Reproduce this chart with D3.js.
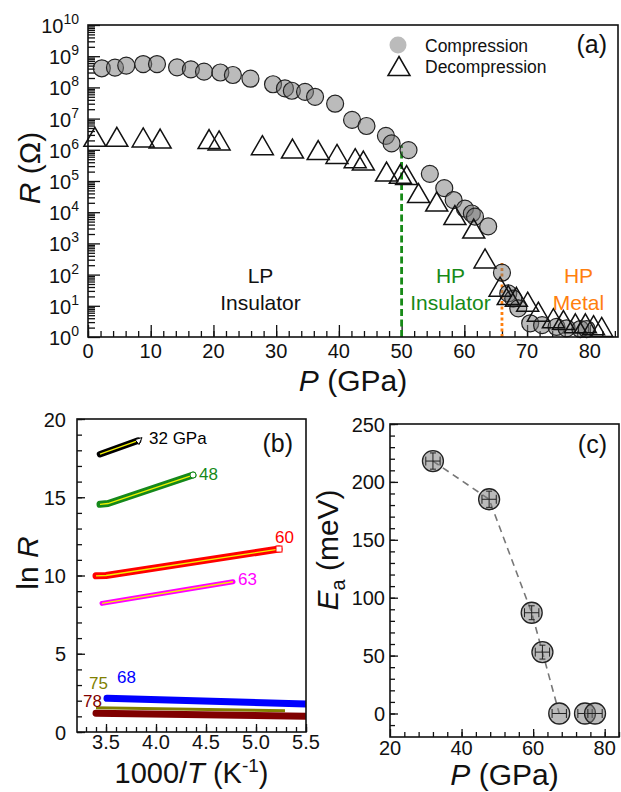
<!DOCTYPE html>
<html>
<head>
<meta charset="utf-8">
<script src="https://cdn.jsdelivr.net/npm/d3@7/dist/d3.min.js"></script>
<style>
  html, body { margin: 0; padding: 0; background: #fff; }
  svg { display: block; }
  text { font-family: 'Liberation Sans', Arial, Helvetica, sans-serif; fill: #111; }
</style>
</head>
<body>
<svg id="chart" width="621" height="792"></svg>
<script>
// ---------- Panel (a) data ----------
const compP = [2.2, 4.3, 6.1, 8.8, 11.0, 14.2, 16.4, 18.5, 21.1, 23.1, 25.9, 29.5, 31.4, 32.5, 34.6, 36.2, 39.4, 42.1, 44.4, 47.5, 48.4, 51.1, 54.5, 56.8, 58.3, 60.1, 61.2, 61.7, 63.8, 66.0, 67.0, 67.8, 68.6, 70.5, 72.4, 74.7, 76.3, 78.5, 79.5];
const compR = [4.1e8, 4.3e8, 5.0e8, 5.6e8, 5.6e8, 4.4e8, 3.8e8, 3.2e8, 3.0e8, 2.5e8, 1.9e8, 1.26e8, 9.3e7, 7.8e7, 7.2e7, 5.0e7, 3.0e7, 9.1e6, 5.8e6, 2.8e6, 1.6e6, 9.8e5, 1.7e5, 5.9e4, 2.45e4, 1.3e4, 9.1e3, 7.2e3, 3.5e3, 115, 25, 17, 8.3, 2.75, 2.4, 2.1, 1.9, 1.8, 1.8];
const decP = [1.1, 4.6, 8.8, 11.5, 19.3, 20.9, 27.8, 32.6, 36.7, 39.7, 42.6, 43.9, 47.6, 49.8, 50.8, 52.7, 55.6, 58.5, 61.5, 63.3, 65.7, 67.0, 68.3, 70.1, 71.8, 74.2, 75.8, 77.7, 79.3, 80.6, 81.9];
const decR = [2.6e6, 2.6e6, 2.5e6, 2.3e6, 2.2e6, 2.0e6, 1.4e6, 1.1e6, 9.8e5, 7.4e5, 5.4e5, 4.5e5, 2.0e5, 1.7e5, 1.55e5, 4.1e4, 2.2e4, 8.1e3, 3.0e3, 330, 41, 22, 19.5, 13.5, 6.5, 4.0, 3.5, 2.75, 2.75, 2.4, 2.1];
const aXTicks = [0, 10, 20, 30, 40, 50, 60, 70, 80];
const aYExponents = [0, 1, 2, 3, 4, 5, 6, 7, 8, 9, 10];
const boundaryP = [50, 66];
const boundaryTopR = [1.4e6, 234];
const regionNames = [["LP", "Insulator"], ["HP", "Insulator"], ["HP", "Metal"]];
const regionP = [27.5, 57.8, 78.2];
const legendLabels = ["Compression", "Decompression"];

// ---------- Panel (b) data ----------
const bPressures = ["32 GPa", "48", "60", "63", "68", "75", "78"];
const bX = [
  [3.44, 3.82],
  [3.44, 3.52, 4.37],
  [3.40, 3.50, 5.23],
  [3.46, 4.77],
  [3.51, 5.50],
  [3.40, 5.29],
  [3.40, 5.50]
];
const bLnR = [
  [17.75, 18.62],
  [14.55, 14.60, 16.42],
  [9.98, 10.00, 11.69],
  [8.22, 9.60],
  [2.15, 1.79],
  [1.55, 1.36],
  [1.20, 1.00]
];
const bXTicks = [3.5, 4.0, 4.5, 5.0, 5.5];
const bYTicks = [0, 5, 10, 15, 20];

// ---------- Panel (c) data ----------
const cP = [32, 47.7, 59.6, 62.6, 67.3, 74.5, 77.3];
const cEa = [218, 185, 87, 53, 0, 0, 0];
const cPerr = [2, 2, 2, 2, 2, 2, 2];
const cEerr = [7, 7, 6, 6, 0, 0, 0];
const cXTicks = [20, 40, 60, 80];
const cYTicks = [0, 50, 100, 150, 200, 250];

// ---------- styles ----------
const green = "#178a17", orange = "#ff7f0e";
const bColors = ["#000000", "#15891a", "#ff0000", "#ff00ff", "#0000ff", "#808000", "#800000"];
const bWidths = [6.5, 7, 7, 5, 7, 3, 7];
const bFit = [true, true, true, true, false, false, false];

const svg = d3.select("#chart");

function styleAxis(g, w) {
  g.selectAll(".domain").remove();
  g.selectAll("line").attr("stroke", "#111").attr("stroke-width", w || 1.3);
}
function frame(x0, y0, x1, y1) {
  svg.append("rect").attr("x", x0).attr("y", y0).attr("width", x1 - x0).attr("height", y1 - y0)
    .attr("fill", "none").attr("stroke", "#111").attr("stroke-width", 1.6);
}

// ================= Panel (a) =================
{
  const L = 88, R = 618, T = 25, B = 337;
  const x = d3.scaleLinear().domain([0, 84.5]).range([L, R]);
  const y = d3.scaleLog().domain([1, 1e10]).range([B, T]);

  const minorY = [];
  for (let e = 0; e < 10; e++) for (let k = 2; k <= 9; k++) minorY.push(k * Math.pow(10, e));
  svg.append("g").attr("transform", `translate(${L},0)`)
    .call(d3.axisLeft(y).tickValues(minorY).tickSize(-7).tickFormat("")).call(styleAxis);
  svg.append("g").attr("transform", `translate(${L},0)`)
    .call(d3.axisLeft(y).tickValues(aYExponents.map(e => Math.pow(10, e))).tickSize(-12).tickFormat("")).call(styleAxis);
  svg.append("g").attr("transform", `translate(0,${B})`)
    .call(d3.axisBottom(x).tickValues(d3.range(0, 85, 2)).tickSize(-6).tickFormat("")).call(styleAxis);
  svg.append("g").attr("transform", `translate(0,${B})`)
    .call(d3.axisBottom(x).tickValues(aXTicks).tickSize(-12).tickFormat("")).call(styleAxis);

  // y labels
  aYExponents.forEach(e => {
    const t = svg.append("text").attr("x", 79).attr("y", y(Math.pow(10, e)) + 8)
      .attr("text-anchor", "end").attr("font-size", 20);
    t.append("tspan").text("10");
    t.append("tspan").attr("dy", -9).attr("font-size", 14).text(e);
  });
  aXTicks.forEach(v => {
    svg.append("text").attr("x", x(v)).attr("y", B + 21).attr("text-anchor", "middle")
      .attr("font-size", 20).text(v);
  });

  // phase boundaries
  [green, orange].forEach((c, i) => {
    svg.append("line").attr("x1", x(boundaryP[i])).attr("x2", x(boundaryP[i]))
      .attr("y1", y(1)).attr("y2", y(boundaryTopR[i]))
      .attr("stroke", c).attr("stroke-width", 2.8)
      .attr("stroke-dasharray", i === 0 ? "7,3.5" : "3,2.5");
  });

  // compression circles
  svg.append("g").selectAll("circle").data(compP).join("circle")
    .attr("cx", (d) => x(d)).attr("cy", (d, i) => y(compR[i])).attr("r", 8.5)
    .attr("fill", "#777").attr("fill-opacity", 0.5)
    .attr("stroke", "#222").attr("stroke-width", 1.2);

  // decompression triangles
  const tri = "M0,-9.5L11,9.5L-11,9.5Z";
  svg.append("g").selectAll("path").data(decP).join("path")
    .attr("d", tri)
    .attr("transform", (d, i) => `translate(${x(d)},${y(decR[i])})`)
    .attr("fill", "none").attr("stroke", "#111").attr("stroke-width", 1.5);

  frame(L, T, R, B);

  // region texts
  const rColors = ["#111", green, orange];
  regionNames.forEach((n, i) => {
    svg.append("text").attr("x", x(regionP[i])).attr("y", 283).attr("text-anchor", "middle")
      .attr("font-size", 21).style("fill", rColors[i]).text(n[0]);
    svg.append("text").attr("x", x(regionP[i])).attr("y", 310).attr("text-anchor", "middle")
      .attr("font-size", 21).style("fill", rColors[i]).text(n[1]);
  });

  // legend
  svg.append("circle").attr("cx", 398).attr("cy", 45).attr("r", 8.5).attr("fill", "#bbb");
  svg.append("path").attr("d", tri).attr("transform", "translate(399,66)")
    .attr("fill", "none").attr("stroke", "#111").attr("stroke-width", 1.5);
  legendLabels.forEach((l, i) => {
    svg.append("text").attr("x", 425).attr("y", 52 + i * 21).attr("font-size", 17.5).text(l);
  });
  svg.append("text").attr("x", 607).attr("y", 53).attr("text-anchor", "end").attr("font-size", 25).text("(a)");

  // axis titles
  const xt = svg.append("text").attr("x", (L + R) / 2).attr("y", 391).attr("text-anchor", "middle").attr("font-size", 30);
  xt.append("tspan").attr("font-style", "italic").text("P");
  xt.append("tspan").text(" (GPa)");
  const yt = svg.append("text").attr("transform", "translate(40,168) rotate(-90)").attr("text-anchor", "middle").attr("font-size", 30);
  yt.append("tspan").attr("font-style", "italic").text("R");
  yt.append("tspan").text(" (Ω)");
}

// ================= Panel (b) =================
{
  const L = 77, R = 306, T = 419, B = 732;
  const x = d3.scaleLinear().domain([3.21, 5.5]).range([L, R]);
  const y = d3.scaleLinear().domain([0, 20]).range([B, T]);

  svg.append("g").attr("transform", `translate(${L},0)`)
    .call(d3.axisLeft(y).tickValues(d3.range(0, 21, 1)).tickSize(-5).tickFormat("")).call(styleAxis);
  svg.append("g").attr("transform", `translate(${L},0)`)
    .call(d3.axisLeft(y).tickValues(bYTicks).tickSize(-8).tickFormat("")).call(styleAxis);
  svg.append("g").attr("transform", `translate(0,${B})`)
    .call(d3.axisBottom(x).tickValues(d3.range(33, 56, 1).map(v => v / 10)).tickSize(-5).tickFormat("")).call(styleAxis);
  svg.append("g").attr("transform", `translate(0,${B})`)
    .call(d3.axisBottom(x).tickValues(bXTicks).tickSize(-8).tickFormat("")).call(styleAxis);

  bYTicks.forEach(v => svg.append("text").attr("x", 66).attr("y", y(v) + 7.5).attr("text-anchor", "end").attr("font-size", 20).text(v));
  bXTicks.forEach(v => svg.append("text").attr("x", x(v)).attr("y", 749).attr("text-anchor", "middle").attr("font-size", 20).text(v.toFixed(1)));

  const clip = svg.append("clipPath").attr("id", "clipb").append("rect")
    .attr("x", L).attr("y", T).attr("width", R - L).attr("height", B - T);
  const g = svg.append("g").attr("clip-path", "url(#clipb)");
  const line = d3.line().x(d => x(d[0])).y(d => y(d[1]));

  bPressures.forEach((p, i) => {
    const pts = bX[i].map((v, j) => [v, bLnR[i][j]]);
    g.append("path").attr("d", line(pts)).attr("fill", "none")
      .attr("stroke", bColors[i]).attr("stroke-width", bWidths[i])
      .attr("stroke-linecap", i === 5 ? "butt" : "round").attr("stroke-linejoin", "round");
    if (bFit[i]) {
      g.append("path").attr("d", line(pts)).attr("fill", "none")
        .attr("stroke", "#f2f200").attr("stroke-width", 1.3);
    }
  });
  // end markers
  {
    const e = (i) => [x(bX[i][bX[i].length - 1]), y(bLnR[i][bLnR[i].length - 1])];
    let [ex, ey] = e(0);
    g.append("path").attr("d", `M${ex + 4},${ey - 3}L${ex - 3},${ey - 1}L${ex + 1},${ey + 4}Z`).attr("fill", "#fff").attr("stroke", "#000").attr("stroke-width", 1);
    [ex, ey] = e(1);
    g.append("circle").attr("cx", ex).attr("cy", ey).attr("r", 3).attr("fill", "#fff").attr("stroke", bColors[1]).attr("stroke-width", 1);
    [ex, ey] = e(2);
    g.append("rect").attr("x", ex - 3).attr("y", ey - 3).attr("width", 6).attr("height", 6).attr("fill", "#fff").attr("stroke", bColors[2]).attr("stroke-width", 1);
  }

  // labels
  const off = [[11, 3], [6, 5], [-4, -6], [5, 3], [10, -15], [-7, -19], [-13, -6]];
  const anchorEnd = [true, true, true, true, false, false, false];
  bPressures.forEach((p, i) => {
    const k = anchorEnd[i] ? bX[i].length - 1 : 0;
    svg.append("text").attr("x", x(bX[i][k]) + off[i][0]).attr("y", y(bLnR[i][k]) + off[i][1])
      .attr("font-size", 17).style("fill", bColors[i]).text(p);
  });

  frame(L, T, R, B);
  svg.append("text").attr("x", 293).attr("y", 452).attr("text-anchor", "end").attr("font-size", 25).text("(b)");

  const xt = svg.append("text").attr("x", (L + R) / 2).attr("y", 783).attr("text-anchor", "middle").attr("font-size", 29);
  xt.append("tspan").text("1000/");
  xt.append("tspan").attr("font-style", "italic").text("T");
  xt.append("tspan").text(" (K");
  xt.append("tspan").attr("dy", -11).attr("font-size", 19).text("-1");
  xt.append("tspan").attr("dy", 11).text(")");
  const yt = svg.append("text").attr("transform", "translate(38,563) rotate(-90)").attr("text-anchor", "middle").attr("font-size", 30);
  yt.append("tspan").text("ln ");
  yt.append("tspan").attr("font-style", "italic").text("R");
}

// ================= Panel (c) =================
{
  const L = 390, R = 619, T = 424, B = 737;
  const x = d3.scaleLinear().domain([20, 84]).range([L, R]);
  const y = d3.scaleLinear().domain([-20.3, 250]).range([B, T]);

  svg.append("g").attr("transform", `translate(${L},0)`)
    .call(d3.axisLeft(y).tickValues(d3.range(-10, 251, 10)).tickSize(-5).tickFormat("")).call(styleAxis);
  svg.append("g").attr("transform", `translate(${L},0)`)
    .call(d3.axisLeft(y).tickValues(cYTicks).tickSize(-8).tickFormat("")).call(styleAxis);
  svg.append("g").attr("transform", `translate(0,${B})`)
    .call(d3.axisBottom(x).tickValues(d3.range(24, 85, 4)).tickSize(-5).tickFormat("")).call(styleAxis);
  svg.append("g").attr("transform", `translate(0,${B})`)
    .call(d3.axisBottom(x).tickValues(cXTicks).tickSize(-8).tickFormat("")).call(styleAxis);

  cYTicks.forEach(v => svg.append("text").attr("x", 385).attr("y", y(v) + 7.5).attr("text-anchor", "end").attr("font-size", 20).text(v));
  cXTicks.forEach(v => svg.append("text").attr("x", x(v)).attr("y", 755).attr("text-anchor", "middle").attr("font-size", 20).text(v));

  const line = d3.line().x(d => x(d[0])).y(d => y(d[1]));
  svg.append("path").attr("d", line(cP.slice(0, 5).map((p, i) => [p, cEa[i]])))
    .attr("fill", "none").attr("stroke", "#777").attr("stroke-width", 1.6).attr("stroke-dasharray", "7,5");

  const pts = cP.map((p, i) => ({ p, e: cEa[i], pe: cPerr[i], ee: cEerr[i] }));
  const g = svg.append("g");
  pts.forEach(d => {
    const cx = x(d.p), cy = y(d.e);
    g.append("circle").attr("cx", cx).attr("cy", cy).attr("r", 10.5)
      .attr("fill", "#777").attr("fill-opacity", 0.5).attr("stroke", "#222").attr("stroke-width", 1.3);
    const x0 = x(d.p - d.pe), x1 = x(d.p + d.pe);
    g.append("line").attr("x1", x0).attr("x2", x1).attr("y1", cy).attr("y2", cy).attr("stroke", "#222").attr("stroke-width", 1);
    [x0, x1].forEach(xx => g.append("line").attr("x1", xx).attr("x2", xx).attr("y1", cy - 4.5).attr("y2", cy + 4.5).attr("stroke", "#222").attr("stroke-width", 1));
    const y0 = y(d.e - d.ee), y1 = y(d.e + d.ee);
    g.append("line").attr("x1", cx).attr("x2", cx).attr("y1", y0).attr("y2", y1).attr("stroke", "#222").attr("stroke-width", 1);
    if (d.ee > 0) [y0, y1].forEach(yy => g.append("line").attr("x1", cx - 3).attr("x2", cx + 3).attr("y1", yy).attr("y2", yy).attr("stroke", "#222").attr("stroke-width", 1));
  });

  frame(L, T, R, B);
  svg.append("text").attr("x", 607).attr("y", 453).attr("text-anchor", "end").attr("font-size", 25).text("(c)");

  const xt = svg.append("text").attr("x", (L + R) / 2).attr("y", 785).attr("text-anchor", "middle").attr("font-size", 30);
  xt.append("tspan").attr("font-style", "italic").text("P");
  xt.append("tspan").text(" (GPa)");
  const yt = svg.append("text").attr("transform", "translate(338,550) rotate(-90)").attr("text-anchor", "middle").attr("font-size", 30);
  yt.append("tspan").attr("font-style", "italic").text("E");
  yt.append("tspan").attr("dy", 7).attr("font-size", 20).text("a");
  yt.append("tspan").attr("dy", -7).text(" (meV)");
}
</script>
</body>
</html>
